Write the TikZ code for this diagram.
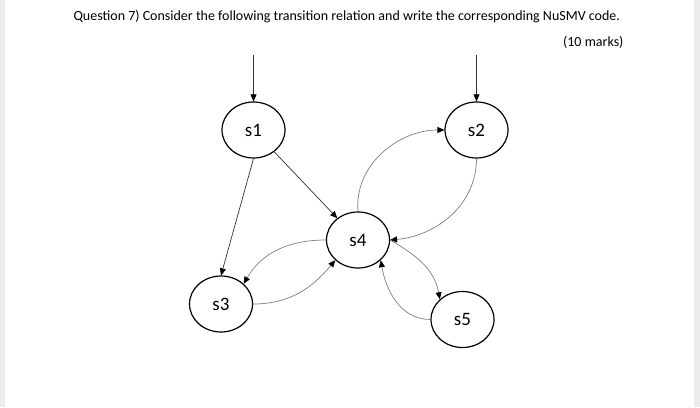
\documentclass[tikz,border=0pt]{standalone}
\usepackage{fontspec}
\setmainfont{Carlito}
\usetikzlibrary{arrows.meta, shapes.geometric}

\begin{document}
\begin{tikzpicture}[
    x=1pt, y=1pt,
    st/.style={
        ellipse, draw, line width=1.2pt,
        minimum width=63pt, minimum height=56pt, inner sep=0pt,
        font=\fontsize{19}{22}\selectfont
    },
    trans/.style={
        -{Triangle[length=7pt,width=6pt,color=black]}, line width=0.7pt, draw=black!80
    },
    curved/.style={
        -{Triangle[length=7pt,width=6pt,color=black]}, line width=0.7pt, draw=black!50
    }
]

% page and side strips
\fill[white] (0,0) rectangle (700,407);
\fill[gray!15] (0,0) rectangle (5,407);
\fill[gray!15] (694,0) rectangle (700,407);
\useasboundingbox (0,0) rectangle (700,407);

\node[anchor=west, font=\fontsize{14}{17}\selectfont] (question) at (70,390)
    {Question 7) Consider the following transition relation and write the corresponding NuSMV code.};
\node[anchor=east, font=\fontsize{14}{17}\selectfont] (marks) at (627,365) {(10 marks)};

\node[st] (s1) at (253.5,277) {s1};
\node[st] (s2) at (476.5,277) {s2};
\node[st] (s4) at (358,167) {s4};
\node[st] (s3) at (221,103) {s3};
\node[st] (s5) at (462.5,87.5) {s5};

\coordinate (init1) at (253.5,352);
\coordinate (init2) at (476.5,352);

% initial states
\draw[trans] (init1) -- (s1);
\draw[trans] (init2) -- (s2);

% straight transitions
\draw[trans] (s1) -- (s4);
\draw[trans] (s1.south) -- (s3.north);

% curved transitions
\draw[curved] (s4.north) to[out=95, in=180] (s2.west);
\draw[curved] (s2.south) to[out=-90, in=5] (s4.east);
\draw[curved] (s4.west) to[out=180, in=60] (s3.north east);
\draw[curved] (s3.east) to[out=0, in=-130] (s4.south west);
\draw[curved] (s4.east) to[out=-30, in=100] (s5.north west);
\draw[curved] (s5.west) to[out=180, in=-80] (s4.south east);

\end{tikzpicture}
\end{document}
